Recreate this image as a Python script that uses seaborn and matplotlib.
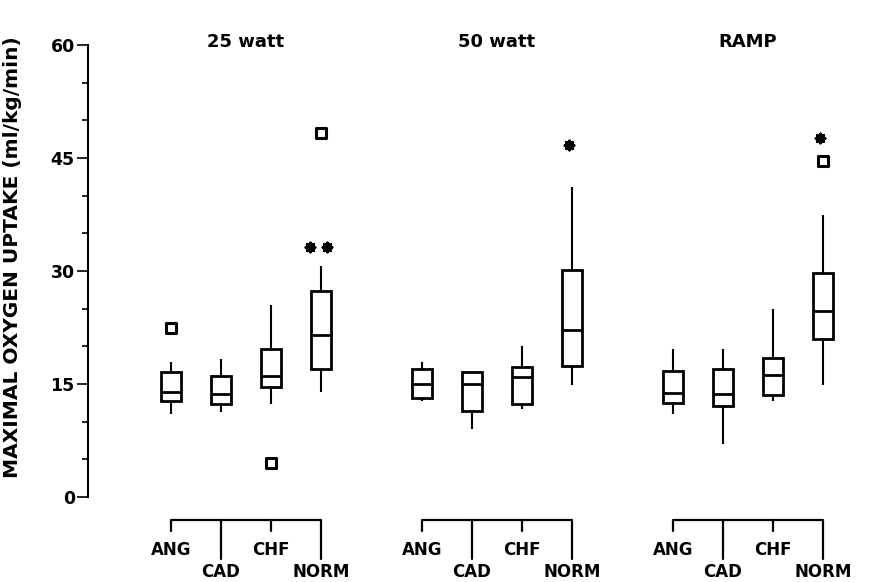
import numpy as np
import pandas as pd
import matplotlib
matplotlib.use("Agg")
import matplotlib.pyplot as plt
import seaborn as sns

# ---------------- data ----------------
groups = ["25 watt", "50 watt", "RAMP"]
categories = ["ANG", "CAD", "CHF", "NORM"]

# one value per (group, category), group-major order
whisker_low = [11.0, 11.3, 12.3, 13.9, 12.7, 9.0, 11.7, 14.9, 11.0, 7.1, 12.8, 14.9]
quartile_1 = [12.7, 12.4, 14.6, 17.0, 13.1, 11.4, 12.3, 17.4, 12.5, 12.1, 13.5, 21.0]
median = [13.9, 13.7, 16.0, 21.5, 15.0, 15.0, 15.9, 22.2, 13.8, 13.7, 16.2, 24.7]
quartile_3 = [16.6, 16.1, 19.7, 27.3, 17.0, 16.6, 17.2, 30.1, 16.7, 17.0, 18.4, 29.7]
whisker_high = [17.9, 18.3, 25.5, 30.6, 17.9, 16.6, 20.1, 41.1, 19.6, 19.7, 25.0, 37.4]

outlier_group = ["25 watt", "25 watt", "25 watt", "RAMP"]
outlier_category = ["ANG", "CHF", "NORM", "NORM"]
outlier_value = [22.5, 4.5, 48.3, 44.6]

sig_group = ["25 watt", "50 watt", "RAMP"]
sig_category = ["NORM", "NORM", "NORM"]
sig_stars = [2, 1, 1]
sig_value = [33.2, 46.7, 47.7]

y_ticks = [0, 15, 30, 45, 60]
y_label = "MAXIMAL OXYGEN UPTAKE (ml/kg/min)"

# ---------------- table for seaborn ----------------
rows = []
i = 0
for g in groups:
    for c in categories:
        for v in (whisker_low[i], quartile_1[i], median[i], quartile_3[i], whisker_high[i]):
            rows.append({"group": g, "category": c, "value": v})
        i += 1
df = pd.DataFrame(rows)

# ---------------- figure / layout ----------------
sns.set_style("ticks")
plt.rcParams["font.family"] = ["DejaVu Sans"]
plt.rcParams["font.weight"] = "bold"
for key in ("text.color", "axes.labelcolor", "xtick.color", "ytick.color", "axes.edgecolor"):
    plt.rcParams[key] = "black"

W, H = 873, 582
fig = plt.figure(figsize=(W / 100, H / 100), dpi=100)

y_lo, y_hi = -11.0, 63.0
px0, px60 = 497.0, 45.0          # pixel rows of y=0 and y=60
ppu = (px0 - px60) / 60.0
bot_px = px0 - y_lo * ppu
top_px = px60 - (y_hi - 60) * ppu
left_px = 88.0
ax = fig.add_axes([left_px / W, 1 - bot_px / H, (W - left_px) / W, (bot_px - top_px) / H])

width = 0.8
n_cat = len(categories)
slot = width / n_cat


def xpos(g, c):
    return groups.index(g) + (categories.index(c) - (n_cat - 1) / 2) * slot


sns.boxplot(
    data=df, x="group", y="value", hue="category",
    order=groups, hue_order=categories,
    width=width, gap=0.6, whis=(0, 100),
    palette={c: "white" for c in categories}, saturation=1,
    linecolor="black", linewidth=2.0, showcaps=False,
    whiskerprops={"linewidth": 1.5},
    legend=False, ax=ax,
)

# outliers (open squares)
ox = [xpos(g, c) for g, c in zip(outlier_group, outlier_category)]
ax.scatter(ox, outlier_value, marker="s", s=42, facecolor="white",
           edgecolor="black", linewidths=2.2, zorder=5)

# significance asterisks
for g, c, n, v in zip(sig_group, sig_category, sig_stars, sig_value):
    x0 = xpos(g, c) - 0.012
    sx = [x0 + (k - (n - 1) / 2) * 0.07 for k in range(n)]
    ax.scatter(sx, [v] * n, marker=(8, 2, 0), s=40, color="black",
               linewidths=2.2, zorder=5)

# group titles
for gi, g in enumerate(groups):
    ax.text(gi, (px0 - 42) / ppu, g, ha="center", va="center",
            fontsize=13, fontweight="bold")

# category brackets and labels under each group
bar_y = (px0 - 520) / ppu
short_y = (px0 - 531) / ppu
long_y = (px0 - 559) / ppu
lab1_y = (px0 - 550) / ppu
lab2_y = (px0 - 572) / ppu
for g in groups:
    xs = [xpos(g, c) for c in categories]
    ax.plot([xs[0], xs[-1]], [bar_y, bar_y], color="black", lw=1.6,
            clip_on=False, solid_capstyle="butt")
    for k, (c, x) in enumerate(zip(categories, xs)):
        ax.plot([x, x], [bar_y, short_y if k % 2 == 0 else long_y],
                color="black", lw=1.6, clip_on=False)
        ax.text(x, lab1_y if k % 2 == 0 else lab2_y, c, ha="center",
                va="center", fontsize=12, fontweight="bold")

# axes styling
ax.set_xlim((left_px - 246) / 251, (W - 246) / 251)
ax.set_ylim(y_lo, y_hi)
ax.set_xticks([])
ax.set_xlabel("")
ax.set_yticks(y_ticks)
ax.set_yticks(np.arange(0, 61, 5), minor=True)
ax.set_yticklabels([str(t) for t in y_ticks], fontsize=12.5, fontweight="bold")
ax.tick_params(axis="y", which="major", direction="out", length=8, width=1.2,
               pad=1.5, color="black", labelcolor="black")
ax.tick_params(axis="y", which="minor", direction="out", length=4.5, width=1.2,
               color="black")
for s in ("top", "right", "bottom"):
    ax.spines[s].set_visible(False)
ax.spines["left"].set_bounds(0, 60)
ax.spines["left"].set_linewidth(1.5)
ax.spines["left"].set_color("black")
ax.set_facecolor("white")
fig.patch.set_facecolor("white")

ax.set_ylabel(y_label, fontsize=14.5, fontweight="bold", color="black")
lab_val = (px0 - 257) / ppu
ax.yaxis.set_label_coords((22 - left_px) / (W - left_px),
                          (lab_val - y_lo) / (y_hi - y_lo))

fig.savefig("out.png", dpi=100, facecolor="white")
